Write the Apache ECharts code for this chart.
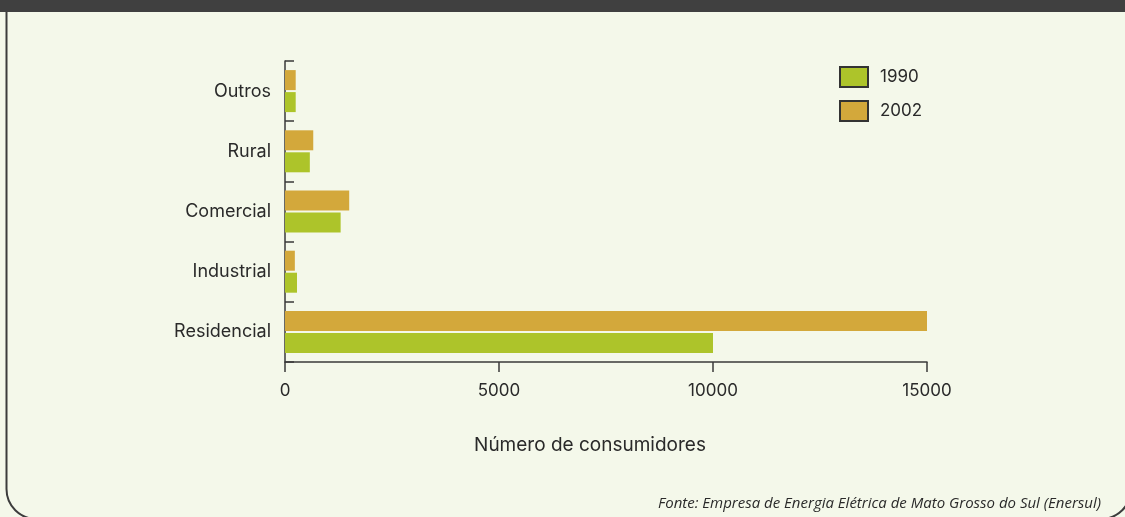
<!DOCTYPE html>
<html>
<head>
<meta charset="utf-8">
<script src="https://cdn.jsdelivr.net/npm/echarts@6/dist/echarts.min.js"></script>
<style>
html,body{margin:0;padding:0;background:#f4f8ea;}
#c{width:1125px;height:517px;}
</style>
</head>
<body>
<div id="c"></div>
<script>
const categories = ['Residencial', 'Industrial', 'Comercial', 'Rural', 'Outros'];
const values1990 = [10000, 280, 1300, 580, 250];
const values2002 = [15000, 230, 1500, 660, 250];
const xTicks = [0, 5000, 10000, 15000];
const seriesNames = ['1990', '2002'];
const xAxisTitle = 'Número de consumidores';
const sourceNote = 'Fonte: Empresa de Energia Elétrica de Mato Grosso do Sul (Enersul)';

const chart = echarts.init(document.getElementById('c'), null, {renderer: 'canvas'});
const textColor = '#2a2a2a';
const axisColor = '#3a3a3a';
const font = 'Inter';
const frame = {stroke: '#3c3c3c', lineWidth: 2, fill: null};
chart.setOption({
  backgroundColor: '#f4f8ea',
  animation: false,
  grid: {left: 285, right: 198, top: 61, bottom: 155, containLabel: false},
  legend: {
    data: seriesNames,
    orient: 'vertical',
    left: 839, top: 66, padding: 0,
    itemWidth: 28, itemHeight: 20, itemGap: 12,
    icon: 'rect',
    itemStyle: {borderColor: '#333', borderWidth: 2},
    textStyle: {fontFamily: font, fontSize: 17, lineHeight: 20, color: textColor, padding: [0, 0, 0, 7]}
  },
  xAxis: {
    type: 'value', min: xTicks[0], max: xTicks[xTicks.length - 1], interval: 5000,
    splitLine: {show: false},
    axisLine: {show: true, lineStyle: {color: axisColor, width: 1.5}},
    axisTick: {show: true, length: 10, lineStyle: {color: axisColor, width: 1.5}},
    axisLabel: {fontFamily: font, fontSize: 17, color: textColor, margin: 20,
      formatter: v => String(v)},
    name: xAxisTitle, nameLocation: 'middle', nameGap: 74,
    nameTextStyle: {fontFamily: font, fontSize: 19, color: textColor, padding: [0, 32, 0, 0]}
  },
  yAxis: {
    type: 'category', data: categories,
    axisLine: {show: true, lineStyle: {color: axisColor, width: 1.5}},
    axisTick: {show: true, inside: true, length: 9, lineStyle: {color: axisColor, width: 1.5}},
    axisLabel: {fontFamily: font, fontSize: 18, color: textColor, margin: 14, padding: [3, 0, 0, 0]}
  },
  series: [
    {name: seriesNames[1], type: 'bar', data: values2002, barWidth: 20, barGap: '10%',
     itemStyle: {color: '#d3a83b'}},
    {name: seriesNames[0], type: 'bar', data: values1990, barWidth: 20, barGap: '10%',
     itemStyle: {color: '#adc42a'}}
  ],
  graphic: [
    {type: 'rect', shape: {x: 0, y: 0, width: 1125, height: 12}, style: {fill: '#404040'}, silent: true},
    {type: 'line', shape: {x1: 6.5, y1: 12, x2: 6.5, y2: 489}, style: frame, silent: true},
    {type: 'arc', shape: {cx: 36.5, cy: 489, r: 30, startAngle: Math.PI / 2, endAngle: Math.PI, clockwise: true}, style: frame, silent: true},
    {type: 'arc', shape: {cx: 1101, cy: 489, r: 30, startAngle: 0, endAngle: Math.PI / 2, clockwise: true}, style: frame, silent: true},
    {type: 'text', right: 24, top: 496,
     style: {text: sourceNote, fontFamily: 'Open Sans', fontStyle: 'italic', fontSize: 15, fill: '#2a2a2a'}}
  ]
});
</script>
</body>
</html>
